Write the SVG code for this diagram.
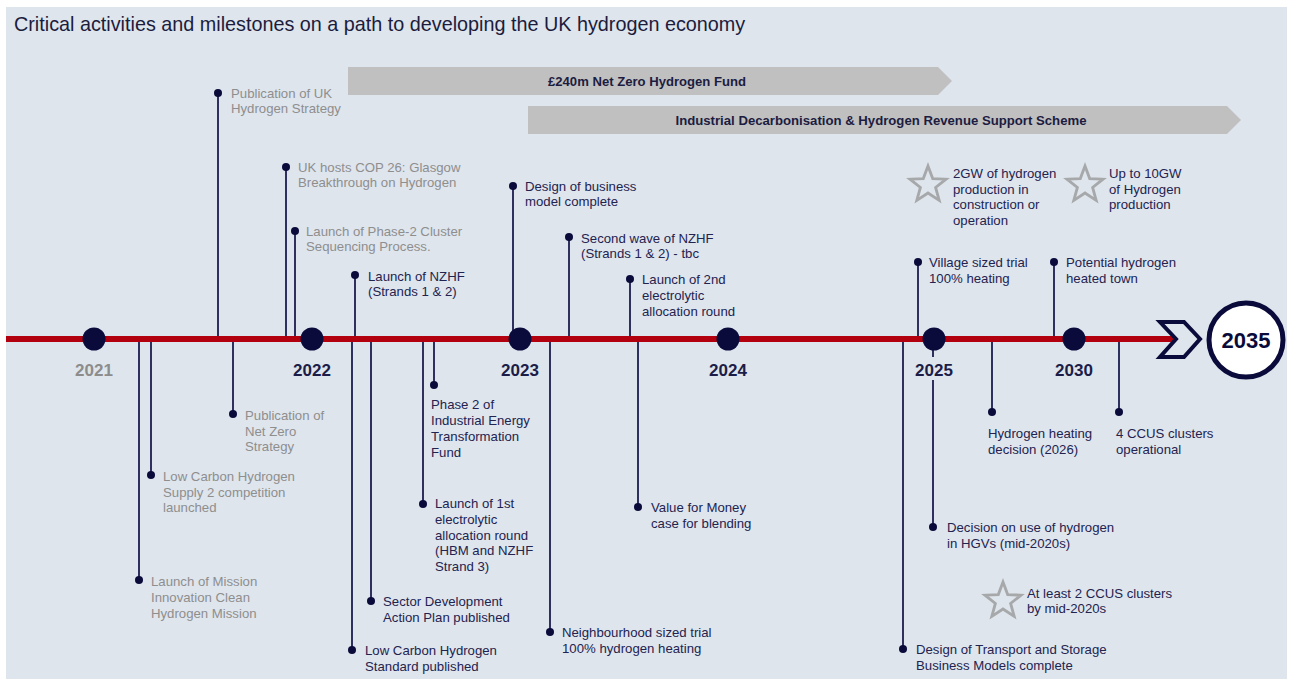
<svg xmlns="http://www.w3.org/2000/svg" xmlns:xlink="http://www.w3.org/1999/xlink" width="1292" height="682" viewBox="0 0 1292 682">
<style>
  .t{font-family:"Liberation Sans",Arial,sans-serif;font-size:13.2px;fill:#23234f}
  .g{font-family:"Liberation Sans",Arial,sans-serif;font-size:13.2px;fill:#8e8e8e}
  .yr{font-family:"Liberation Sans",Arial,sans-serif;font-size:17px;font-weight:bold;fill:#1c1c48;text-anchor:middle}
  .ar{font-family:"Liberation Sans",Arial,sans-serif;font-size:13px;font-weight:bold;fill:#1c1c40;text-anchor:middle}
  .stem{stroke:#2e3060;stroke-width:2;fill:none}
  .dot{fill:#0b0b3b}
  .yd{fill:#0b0b3b}
  .star{fill:none;stroke:#a6a8aa;stroke-width:2.8;stroke-linejoin:miter}
</style>
<defs>
  <polygon id="star" points="0,-19 4.7,-6.47 18.07,-5.87 7.61,2.47 11.17,15.37 0,8 -11.17,15.37 -7.61,2.47 -18.07,-5.87 -4.7,-6.47"/>
</defs>
<rect x="0" y="0" width="1292" height="682" fill="#ffffff"/>
<rect x="6" y="7" width="1281" height="672" fill="#dee5ed"/>
<text x="14" y="31" style="font-family:'Liberation Sans',Arial,sans-serif;font-size:19.8px;fill:#1c1c3c">Critical activities and milestones on a path to developing the UK hydrogen economy</text>

<g id="fund-arrows">
  <polygon points="348,67 938,67 952,81 938,95 348,95" fill="#c0c0c0"/>
  <text class="ar" x="647" y="86" textLength="198" lengthAdjust="spacingAndGlyphs">£240m Net Zero Hydrogen Fund</text>
  <polygon points="528,106 1227,106 1241,120 1227,134 528,134" fill="#c0c0c0"/>
  <text class="ar" x="881" y="125" textLength="411" lengthAdjust="spacingAndGlyphs">Industrial Decarbonisation &amp; Hydrogen Revenue Support Scheme</text>
</g>

<g id="connectors">
  <!-- above-line stems -->
  <line class="stem" x1="218" y1="93" x2="218" y2="337"/>
  <line class="stem" x1="286" y1="167" x2="286" y2="337"/>
  <line class="stem" x1="295" y1="231" x2="295" y2="337"/>
  <line class="stem" x1="355" y1="275" x2="355" y2="337"/>
  <line class="stem" x1="513" y1="186" x2="513" y2="337"/>
  <line class="stem" x1="569" y1="237" x2="569" y2="337"/>
  <line class="stem" x1="630" y1="279" x2="630" y2="337"/>
  <line class="stem" x1="918" y1="262" x2="918" y2="337"/>
  <line class="stem" x1="1054" y1="262" x2="1054" y2="337"/>
  <!-- below-line stems -->
  <line class="stem" x1="139" y1="341" x2="139" y2="580"/>
  <line class="stem" x1="151" y1="341" x2="151" y2="475"/>
  <line class="stem" x1="233" y1="341" x2="233" y2="414"/>
  <line class="stem" x1="352" y1="341" x2="352" y2="650"/>
  <line class="stem" x1="371" y1="341" x2="371" y2="601"/>
  <line class="stem" x1="423" y1="341" x2="423" y2="504"/>
  <line class="stem" x1="434" y1="341" x2="434" y2="385"/>
  <line class="stem" x1="550" y1="341" x2="550" y2="632"/>
  <line class="stem" x1="638" y1="341" x2="638" y2="507"/>
  <line class="stem" x1="903" y1="341" x2="903" y2="649"/>
  <line class="stem" x1="933" y1="341" x2="933" y2="357"/>
  <line class="stem" x1="933" y1="380" x2="933" y2="527"/>
  <line class="stem" x1="992" y1="341" x2="992" y2="412"/>
  <line class="stem" x1="1119" y1="341" x2="1119" y2="412"/>
</g>

<g id="timeline">
  <line x1="6" y1="339" x2="1174" y2="339" stroke="#b3000f" stroke-width="6"/>
  <polygon points="1160,322 1184,322 1200,339 1184,357 1160,357 1176,339" fill="#dee5ed" stroke="#0b0b3b" stroke-width="4" stroke-linejoin="miter"/>
</g>

<g id="y2021"><circle class="yd" cx="94" cy="339" r="11.5"/><text class="yr" x="94" y="376" style="fill:#8c8c8c">2021</text></g>
<g id="y2022"><circle class="yd" cx="312" cy="339" r="11.5"/><text class="yr" x="312" y="376">2022</text></g>
<g id="y2023"><circle class="yd" cx="520" cy="339" r="11.5"/><text class="yr" x="520" y="376">2023</text></g>
<g id="y2024"><circle class="yd" cx="728" cy="339" r="11.5"/><text class="yr" x="728" y="376">2024</text></g>
<g id="y2025"><circle class="yd" cx="934" cy="339" r="11.5"/><text class="yr" x="934" y="376">2025</text></g>
<g id="y2030"><circle class="yd" cx="1074" cy="339" r="11.5"/><text class="yr" x="1074" y="376">2030</text></g>
<g id="y2035"><circle cx="1246" cy="340" r="37" fill="#ffffff" stroke="#0b0b3b" stroke-width="5"/><text x="1246" y="348" style="font-family:'Liberation Sans',Arial,sans-serif;font-size:22px;font-weight:bold;fill:#0b0b3b;text-anchor:middle">2035</text></g>

<!-- above-line milestones -->
<g id="m-uk-strategy"><circle class="dot" cx="218" cy="93" r="4"/><text class="g"><tspan x="231" y="98">Publication of UK</tspan><tspan x="231" y="113">Hydrogen Strategy</tspan></text></g>
<g id="m-cop26"><circle class="dot" cx="286" cy="167" r="4"/><text class="g"><tspan x="298" y="172">UK hosts COP 26: Glasgow</tspan><tspan x="298" y="187">Breakthrough on Hydrogen</tspan></text></g>
<g id="m-phase2-cluster"><circle class="dot" cx="295" cy="231" r="4"/><text class="g"><tspan x="306" y="236">Launch of Phase-2 Cluster</tspan><tspan x="306" y="251">Sequencing Process.</tspan></text></g>
<g id="m-nzhf"><circle class="dot" cx="355" cy="275" r="4"/><text class="t"><tspan x="368" y="281">Launch of NZHF</tspan><tspan x="368" y="296">(Strands 1 &amp; 2)</tspan></text></g>
<g id="m-business-model"><circle class="dot" cx="513" cy="186" r="4"/><text class="t"><tspan x="525" y="191">Design of business</tspan><tspan x="525" y="206">model complete</tspan></text></g>
<g id="m-second-wave"><circle class="dot" cx="569" cy="237" r="4"/><text class="t"><tspan x="581" y="243">Second wave of NZHF</tspan><tspan x="581" y="258">(Strands 1 &amp; 2) - tbc</tspan></text></g>
<g id="m-2nd-round"><circle class="dot" cx="630" cy="279" r="4"/><text class="t"><tspan x="642" y="284">Launch of 2nd</tspan><tspan x="642" y="300">electrolytic</tspan><tspan x="642" y="316">allocation round</tspan></text></g>
<g id="m-village"><circle class="dot" cx="918" cy="262" r="4"/><text class="t"><tspan x="929" y="267">Village sized trial</tspan><tspan x="929" y="283">100% heating</tspan></text></g>
<g id="m-town"><circle class="dot" cx="1054" cy="262" r="4"/><text class="t"><tspan x="1066" y="267">Potential hydrogen</tspan><tspan x="1066" y="283">heated town</tspan></text></g>

<!-- star milestones -->
<g id="s-2gw"><use href="#star" xlink:href="#star" class="star" x="928" y="185"/><text class="t"><tspan x="953" y="178">2GW of hydrogen</tspan><tspan x="953" y="194">production in</tspan><tspan x="953" y="209">construction or</tspan><tspan x="953" y="225">operation</tspan></text></g>
<g id="s-10gw"><use href="#star" xlink:href="#star" class="star" x="1085" y="185"/><text class="t"><tspan x="1109" y="178">Up to 10GW</tspan><tspan x="1109" y="194">of Hydrogen</tspan><tspan x="1109" y="209">production</tspan></text></g>
<g id="s-ccus"><use href="#star" xlink:href="#star" class="star" x="1003" y="601"/><text class="t"><tspan x="1027" y="598">At least 2 CCUS clusters</tspan><tspan x="1027" y="613">by mid-2020s</tspan></text></g>

<!-- below-line milestones -->
<g id="m-mission"><circle class="dot" cx="139" cy="580" r="4"/><text class="g"><tspan x="151" y="586">Launch of Mission</tspan><tspan x="151" y="602">Innovation Clean</tspan><tspan x="151" y="618">Hydrogen Mission</tspan></text></g>
<g id="m-supply2"><circle class="dot" cx="151" cy="475" r="4"/><text class="g"><tspan x="163" y="481">Low Carbon Hydrogen</tspan><tspan x="163" y="497">Supply 2 competition</tspan><tspan x="163" y="512">launched</tspan></text></g>
<g id="m-netzero"><circle class="dot" cx="233" cy="414" r="4"/><text class="g"><tspan x="245" y="420">Publication of</tspan><tspan x="245" y="436">Net Zero</tspan><tspan x="245" y="451">Strategy</tspan></text></g>
<g id="m-standard"><circle class="dot" cx="352" cy="650" r="4"/><text class="t"><tspan x="365" y="655">Low Carbon Hydrogen</tspan><tspan x="365" y="671">Standard published</tspan></text></g>
<g id="m-sector"><circle class="dot" cx="371" cy="601" r="4"/><text class="t"><tspan x="383" y="606">Sector Development</tspan><tspan x="383" y="622">Action Plan published</tspan></text></g>
<g id="m-1st-round"><circle class="dot" cx="423" cy="504" r="4"/><text class="t"><tspan x="435" y="508">Launch of 1st</tspan><tspan x="435" y="524">electrolytic</tspan><tspan x="435" y="540">allocation round</tspan><tspan x="435" y="555">(HBM and NZHF</tspan><tspan x="435" y="571">Strand 3)</tspan></text></g>
<g id="m-ietf"><circle class="dot" cx="434" cy="385" r="4"/><text class="t"><tspan x="431" y="409">Phase 2 of</tspan><tspan x="431" y="425">Industrial Energy</tspan><tspan x="431" y="441">Transformation</tspan><tspan x="431" y="457">Fund</tspan></text></g>
<g id="m-neighbourhood"><circle class="dot" cx="550" cy="632" r="4"/><text class="t"><tspan x="562" y="637">Neighbourhood sized trial</tspan><tspan x="562" y="653">100% hydrogen heating</tspan></text></g>
<g id="m-vfm"><circle class="dot" cx="638" cy="507" r="4"/><text class="t"><tspan x="651" y="512">Value for Money</tspan><tspan x="651" y="528">case for blending</tspan></text></g>
<g id="m-ts-models"><circle class="dot" cx="903" cy="649" r="4"/><text class="t"><tspan x="916" y="654">Design of Transport and Storage</tspan><tspan x="916" y="670">Business Models complete</tspan></text></g>
<g id="m-hgv"><circle class="dot" cx="933" cy="527" r="4"/><text class="t"><tspan x="947" y="532">Decision on use of hydrogen</tspan><tspan x="947" y="548">in HGVs (mid-2020s)</tspan></text></g>
<g id="m-heating-decision"><circle class="dot" cx="992" cy="412" r="4"/><text class="t"><tspan x="988" y="438">Hydrogen heating</tspan><tspan x="988" y="454">decision (2026)</tspan></text></g>
<g id="m-4ccus"><circle class="dot" cx="1119" cy="412" r="4"/><text class="t"><tspan x="1116" y="438">4 CCUS clusters</tspan><tspan x="1116" y="454">operational</tspan></text></g>
</svg>
